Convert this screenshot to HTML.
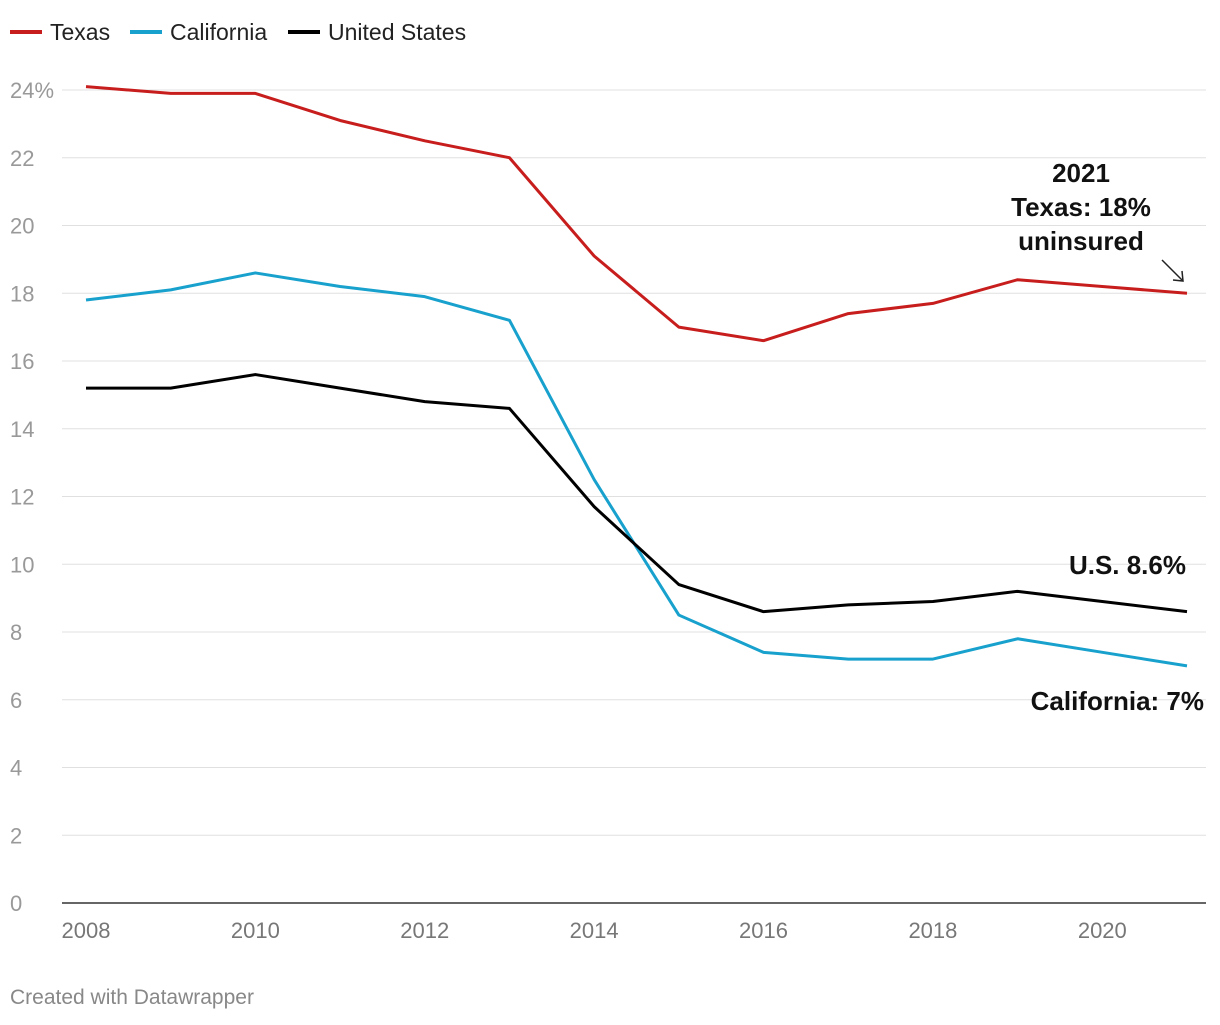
<!DOCTYPE html>
<html><head><meta charset="utf-8"><style>
body{margin:0;background:#fff;font-family:"Liberation Sans",Arial,sans-serif;}
svg text{font-family:"Liberation Sans",Arial,sans-serif;}
</style></head><body>
<svg id="chart" width="1220" height="1020">
<g>
<line x1="10" y1="32" x2="42" y2="32" stroke="#c71e1d" stroke-width="4"/>
<text x="50" y="40" font-size="23" fill="#222">Texas</text>
<line x1="130" y1="32" x2="162" y2="32" stroke="#18a1cd" stroke-width="4"/>
<text x="170" y="40" font-size="23" fill="#222">California</text>
<line x1="288" y1="32" x2="320" y2="32" stroke="#000" stroke-width="4"/>
<text x="328" y="40" font-size="23" fill="#222">United States</text>
</g>
<g id="grid"></g>
<g id="lines"></g>
<g font-weight="bold" font-size="26" fill="#111">
<text x="1081" y="182" text-anchor="middle">2021</text>
<text x="1081" y="216" text-anchor="middle">Texas: 18%</text>
<text x="1081" y="250" text-anchor="middle">uninsured</text>
<line x1="1162" y1="260" x2="1182" y2="280" stroke="#222" stroke-width="1.5"/>
<polyline points="1173,280 1183,281 1182,271" fill="none" stroke="#222" stroke-width="1.5"/>
<text x="1186" y="574" text-anchor="end">U.S. 8.6%</text>
<text x="1204" y="710" text-anchor="end">California: 7%</text>
</g>
<text x="10" y="1004" font-size="21" fill="#888">Created with Datawrapper</text>
</svg>
<script>
const years=[2008,2009,2010,2011,2012,2013,2014,2015,2016,2017,2018,2019,2020,2021];
const texas=[24.1,23.9,23.9,23.1,22.5,22.0,19.1,17.0,16.6,17.4,17.7,18.4,18.2,18.0];
const california=[17.8,18.1,18.6,18.2,17.9,17.2,12.5,8.5,7.4,7.2,7.2,7.8,7.4,7.0];
const unitedStates=[15.2,15.2,15.6,15.2,14.8,14.6,11.7,9.4,8.6,8.8,8.9,9.2,8.9,8.6];
const yTicks=[0,2,4,6,8,10,12,14,16,18,20,22,24];
const xTicks=[2008,2010,2012,2014,2016,2018,2020];
const NS="http://www.w3.org/2000/svg";
const x=v=>86+(v-2008)*(1187-86)/13;
const y=v=>903-v*(903-90)/24;
const grid=document.getElementById('grid');
yTicks.forEach(t=>{
 const l=document.createElementNS(NS,'line');
 
 
 l.setAttribute('x1',62);l.setAttribute('x2',1206);
 l.setAttribute('y1',y(t));l.setAttribute('y2',y(t));
 l.setAttribute('stroke',t===0?'#333':'#e0e0e0');l.setAttribute('stroke-width',t===0?1.5:1);
 grid.appendChild(l);
 const tx=document.createElementNS(NS,'text');
 
 
 tx.setAttribute('x',10);tx.setAttribute('y',y(t)+8);
 tx.setAttribute('font-size',22);tx.setAttribute('fill','#999');
 tx.textContent=t===24?'24%':t;
 grid.appendChild(tx);
});
xTicks.forEach(t=>{
 const tx=document.createElementNS(NS,'text');
 
 
 tx.setAttribute('x',x(t));tx.setAttribute('y',938);
 tx.setAttribute('font-size',22);tx.setAttribute('fill','#777');
 tx.setAttribute('text-anchor','middle');
 tx.textContent=t;
 grid.appendChild(tx);
});
const g=document.getElementById('lines');
[[california,'#18a1cd','line-california'],[unitedStates,'#000','line-united-states'],[texas,'#c71e1d','line-texas']].forEach(([d,c,n])=>{
 const p=document.createElementNS(NS,'polyline');
 
 
 p.setAttribute('points',d.map((v,i)=>x(years[i])+','+y(v)).join(' '));
 p.setAttribute('fill','none');p.setAttribute('stroke',c);p.setAttribute('stroke-width',3);
 p.setAttribute('stroke-linejoin','round');
 g.appendChild(p);
});
</script>
</body></html>
